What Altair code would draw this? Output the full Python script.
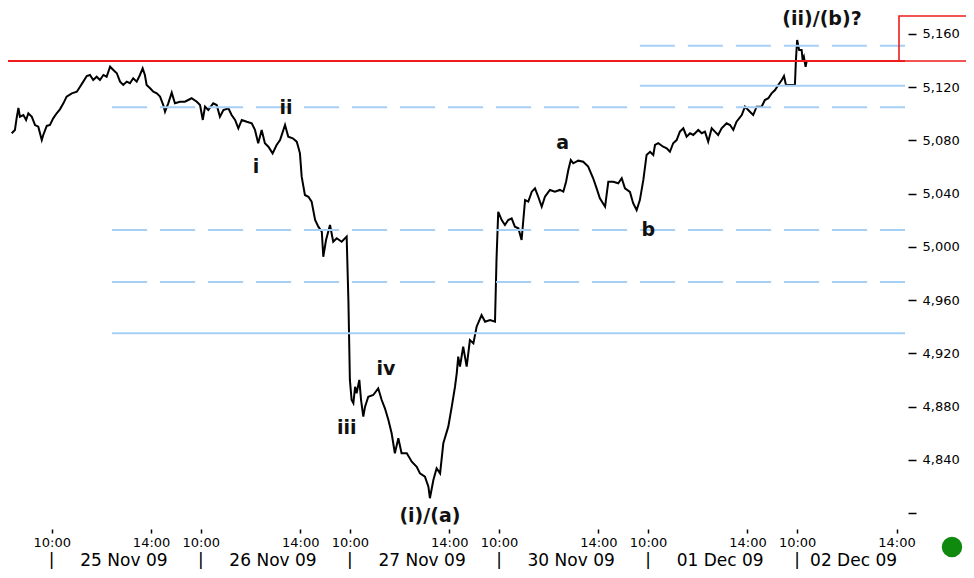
import altair as alt
import pandas as pd

# ---- data -----------------------------------------------------------------
# x is "trading-clock hours": each session is 6 h on the chart's axis,
# 10:00 of session d sits at 2 + 6d and 14:00 at 6 + 6d (d = 0 is 25 Nov 09).
hours = [0.39, 0.52, 0.59, 0.66, 0.72, 0.86, 0.97, 1.06, 1.20, 1.33, 1.46, 1.60, 1.66, 1.80, 1.93,
         2.06, 2.20, 2.33, 2.47, 2.60, 2.81, 3.01, 3.14, 3.27, 3.41, 3.54, 3.67, 3.81, 3.94, 4.08,
         4.21, 4.35, 4.48, 4.62, 4.75, 4.88, 5.02, 5.15, 5.28, 5.42, 5.55, 5.66, 5.75, 5.82, 5.96,
         6.09, 6.23, 6.36, 6.49, 6.56, 6.69, 6.83, 6.96, 7.16, 7.36, 7.63, 7.84, 7.97, 8.08, 8.17,
         8.30, 8.50, 8.64, 8.77, 8.91, 9.11, 9.24, 9.38, 9.51, 9.65, 9.85, 10.05, 10.18, 10.31, 10.45,
         10.58, 10.72, 10.89, 11.05, 11.19, 11.39, 11.52, 11.70, 11.86, 11.92, 11.99, 12.06, 12.19, 12.33, 12.46,
         12.60, 12.73, 12.87, 12.93, 13.04, 13.20, 13.33, 13.47, 13.67, 13.87, 13.94, 14.00, 14.07, 14.14, 14.21,
         14.27, 14.38, 14.45, 14.54, 14.61, 14.74, 14.94, 15.14, 15.28, 15.41, 15.55, 15.68, 15.81, 15.95, 16.08,
         16.29, 16.49, 16.69, 16.82, 17.02, 17.16, 17.22, 17.36, 17.49, 17.63, 17.76, 17.96, 18.10, 18.23, 18.30,
         18.36, 18.43, 18.56, 18.70, 18.83, 18.97, 19.10, 19.30, 19.44, 19.64, 19.84, 19.90, 19.97, 20.11, 20.24,
         20.37, 20.51, 20.64, 20.78, 20.91, 20.98, 21.05, 21.18, 21.32, 21.45, 21.58, 21.72, 21.85, 22.05, 22.25,
         22.45, 22.59, 22.70, 22.79, 22.89, 22.99, 23.19, 23.39, 23.59, 23.79, 23.93, 24.06, 24.27, 24.40, 24.60,
         24.80, 24.94, 25.07, 25.27, 25.40, 25.54, 25.67, 25.81, 25.94, 26.08, 26.21, 26.28, 26.41, 26.61, 26.75,
         26.88, 27.01, 27.15, 27.28, 27.42, 27.55, 27.69, 27.82, 28.02, 28.16, 28.29, 28.42, 28.56, 28.69, 28.82,
         28.96, 29.16, 29.30, 29.43, 29.56, 29.77, 29.90, 30.03, 30.23, 30.37, 30.57, 30.70, 30.84, 30.97, 31.11,
         31.24, 31.38, 31.47, 31.55, 31.71, 31.91, 31.95, 32.00, 32.08, 32.18, 32.22, 32.27, 32.34, 32.38]

prices = [5085.4, 5087.9, 5096.9, 5104.4, 5097.8, 5099.1, 5095.4, 5100.4, 5097.8, 5091.6, 5090.3, 5080.3, 5084.1, 5090.9, 5091.6,
          5096.6, 5100.4, 5103.4, 5107.9, 5112.9, 5115.4, 5116.6, 5120.4, 5124.2, 5128.4, 5129.2, 5125.4, 5127.9, 5125.4, 5129.2,
          5127.9, 5135.4, 5132.9, 5130.5, 5124.2, 5121.7, 5124.2, 5123.0, 5126.7, 5124.2, 5129.2, 5134.2, 5129.2, 5121.7, 5119.2,
          5116.6, 5115.4, 5112.9, 5106.6, 5101.6, 5107.9, 5115.9, 5107.9, 5109.1, 5109.1, 5111.7, 5109.1, 5106.6, 5095.4, 5105.4,
          5102.9, 5107.9, 5106.6, 5097.8, 5102.9, 5104.2, 5099.1, 5095.4, 5089.1, 5095.4, 5094.1, 5092.9, 5087.9, 5077.9, 5087.9,
          5077.9, 5075.3, 5070.3, 5076.6, 5080.3, 5091.6, 5082.8, 5081.6, 5079.1, 5075.3, 5070.3, 5052.8, 5039.0, 5037.7, 5034.0,
          5020.2, 5015.2, 5011.4, 4992.6, 5005.2, 5016.5, 5003.9, 5006.5, 5003.9, 5007.7, 4960.1, 4900.0, 4884.9, 4882.5, 4894.9,
          4890.0, 4900.0, 4884.9, 4872.4, 4879.9, 4887.4, 4888.7, 4893.7, 4884.9, 4878.7, 4869.9, 4859.9, 4844.9, 4856.2, 4844.9,
          4844.9, 4838.6, 4834.8, 4829.8, 4827.3, 4819.8, 4811.1, 4824.8, 4833.6, 4829.8, 4852.4, 4864.9, 4879.9, 4894.9, 4905.0,
          4917.5, 4910.0, 4925.0, 4910.0, 4930.0, 4927.5, 4940.0, 4948.8, 4943.8, 4945.1, 4943.8, 4990.2, 5026.4, 5020.2, 5016.5,
          5020.2, 5021.5, 5015.2, 5014.0, 5005.2, 5020.2, 5035.2, 5034.0, 5041.5, 5044.0, 5037.7, 5030.2, 5037.7, 5042.8, 5041.5,
          5042.8, 5041.5, 5049.0, 5057.8, 5065.3, 5062.8, 5064.8, 5064.0, 5060.3, 5051.6, 5044.0, 5036.5, 5030.2, 5049.0, 5049.0,
          5047.8, 5051.6, 5044.0, 5041.3, 5032.8, 5027.7, 5035.2, 5050.3, 5069.1, 5071.5, 5069.1, 5076.6, 5077.9, 5075.3, 5074.1,
          5071.5, 5077.9, 5080.3, 5086.6, 5089.1, 5082.8, 5085.4, 5084.1, 5087.9, 5085.4, 5086.6, 5079.1, 5089.1, 5086.6, 5084.1,
          5089.1, 5092.9, 5091.6, 5087.9, 5094.1, 5099.1, 5105.4, 5102.9, 5099.1, 5105.4, 5105.4, 5110.4, 5111.7, 5115.4, 5117.9,
          5121.7, 5125.4, 5128.4, 5121.7, 5121.7, 5121.7, 5140.5, 5155.5, 5148.0, 5148.0, 5140.5, 5142.9, 5135.4, 5139.2]

dates = ["25 Nov 09", "26 Nov 09", "27 Nov 09", "30 Nov 09", "01 Dec 09", "02 Dec 09"]
tick_labels = ["10:00", "14:00"]
y_ticks = [4800, 4840, 4880, 4920, 4960, 5000, 5040, 5080, 5120, 5160]

dashed_levels = [5151.2, 5104.9, 5012.7, 4973.6]
dashed_starts = [25.67, 4.43, 4.43, 4.43]
solid_levels = [5121.1, 4935.1]
solid_starts = [25.67, 4.43]
red_level = 5139.7

wave_labels = ["i", "ii", "iii", "iv", "(i)/(a)", "a", "b", "(ii)/(b)?"]
wave_hours = [10.22, 11.43, 13.87, 15.45, 17.22, 22.56, 26.01, 33.00]
wave_prices = [5060.3, 5104.2, 4863.7, 4908.0, 4797.4, 5077.9, 5012.7, 5171.3]

# ---- layout ---------------------------------------------------------------
X_MIN, X_MAX = 0.241, 36.34
Y_MIN, Y_MAX = 4794.75, 5179.54
W, H = 897, 512
FONT = "DejaVu Sans"
BLUE = "#a6cff5"
RED = "#ee1c1c"

xs = alt.Scale(domain=[X_MIN, X_MAX], nice=False, zero=False)
ys = alt.Scale(domain=[Y_MIN, Y_MAX], nice=False, zero=False)

tick_vals = []
for d in range(len(dates)):
    tick_vals += [2 + 6 * d, 6 + 6 * d]

x_axis = alt.Axis(values=tick_vals,
                  labelExpr=f"datum.value % 6 == 2 ? '{tick_labels[0]}' : '{tick_labels[1]}'",
                  title=None, grid=False, domain=False, tickSize=4, tickWidth=1.5,
                  tickColor="black", offset=9, labelPadding=3, labelFont=FONT,
                  labelFontSize=13, labelColor="black", labelFlush=False, labelOverlap=False)
y_axis = alt.Axis(orient="right", values=y_ticks,
                  labelExpr="datum.value == 4800 ? '' : format(datum.value, ',')",
                  title=None, grid=False, domain=False, tickSize=8, tickWidth=1.5,
                  tickColor="black", offset=3, labelPadding=6, labelFont=FONT,
                  labelFontSize=13, labelColor="black", labelOverlap=False)


def X(field):
    return alt.X(field, type="quantitative", scale=xs, axis=x_axis, title=None)


def Y(field):
    return alt.Y(field, type="quantitative", scale=ys, axis=y_axis, title=None)


price_df = pd.DataFrame({"t": hours, "price": prices})
dashed_df = pd.DataFrame({"t": dashed_starts, "end": [X_MAX] * len(dashed_levels), "price": dashed_levels})
solid_df = pd.DataFrame({"t": solid_starts, "end": [X_MAX] * len(solid_levels), "price": solid_levels})

dashed = alt.Chart(dashed_df).mark_rule(color=BLUE, strokeWidth=2, strokeDash=[35, 13]).encode(
    x=X("t"), x2="end:Q", y=Y("price"))
solid = alt.Chart(solid_df).mark_rule(color=BLUE, strokeWidth=2).encode(
    x=X("t"), x2="end:Q", y=Y("price"))

red_df = pd.DataFrame({"price": [red_level], "top": [Y_MAX - 6.0]})
red_line = alt.Chart(red_df).mark_rule(color=RED, strokeWidth=2).encode(y=Y("price"))
red_box = alt.Chart(red_df).mark_rect(fillOpacity=0, stroke=RED, strokeWidth=1.6).encode(
    x=alt.value(891), x2=alt.value(1000), y=Y("price"), y2="top:Q")

line = alt.Chart(price_df).mark_line(color="black", strokeWidth=2).encode(x=X("t"), y=Y("price"))

wave_df = pd.DataFrame({"label": wave_labels, "t": wave_hours, "price": wave_prices})
waves = alt.Chart(wave_df).mark_text(font="DejaVu Sans", fontWeight="bold", fontSize=19,
                                     color="#111111", align="center", baseline="middle").encode(
    x=X("t"), y=Y("price"), text="label:N")

day_t = [2 + 6 * d for d in range(len(dates))]
date_t = [t + (1.15 if i < len(dates) - 1 else 0.52) for i, t in enumerate(day_t)]
pipe_df = pd.DataFrame({"t": day_t, "label": ["|"] * len(dates)})
date_df = pd.DataFrame({"t": date_t, "label": dates})

pipes = alt.Chart(pipe_df).mark_text(font="Liberation Sans", fontSize=18, color="black", align="center",
                                     baseline="alphabetic").encode(
    x=X("t"), y=alt.value(557), text="label:N")
date_text = alt.Chart(date_df).mark_text(font=FONT, fontSize=17, color="black", align="left",
                                         baseline="alphabetic").encode(
    x=X("t"), y=alt.value(558), text="label:N")

dot = alt.Chart(pd.DataFrame({"k": [1]})).mark_point(filled=True, shape="circle", size=420,
                                                     color="#0f8a0f", opacity=1).encode(
    x=alt.value(944), y=alt.value(539))

chart = alt.layer(line, dashed, solid, red_line, red_box, waves, pipes, date_text, dot).properties(
    width=W, height=H,
    padding={"left": 0, "top": 0, "right": 61, "bottom": 50},
    autosize=alt.AutoSizeParams(type="none"),
    background="white",
).configure_view(stroke=None)

chart.save("out.html", embed_options={"renderer": "svg", "actions": False})
